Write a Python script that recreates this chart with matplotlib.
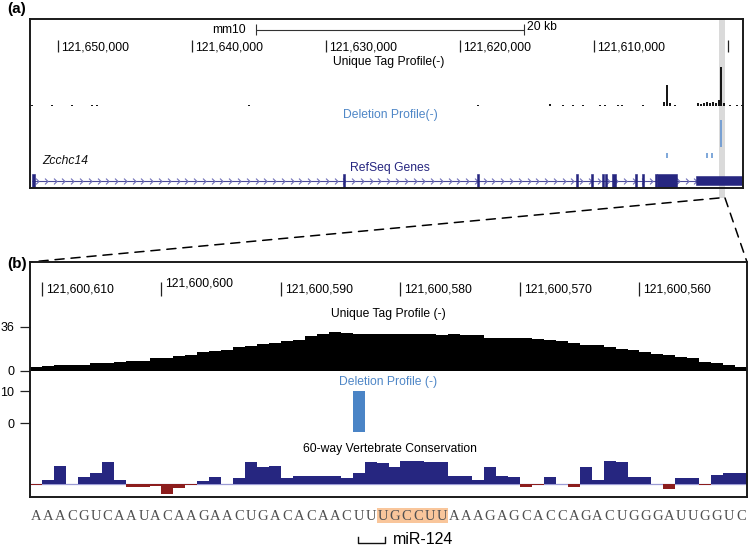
import numpy as np
import matplotlib
matplotlib.use('Agg')
import matplotlib.pyplot as plt
from matplotlib.path import Path
from matplotlib.patches import ConnectionPatch, Rectangle
from matplotlib.transforms import offset_copy, blended_transform_factory

plt.rcParams['font.family'] = ['Liberation Sans', 'DejaVu Sans']

W, H = 750, 546

# ---------------- panel (a) data ----------------
a_view = (121652090, 121598880)          # genomic span, decreasing to the right
a_ruler_ticks = [121650000, 121640000, 121630000, 121620000, 121610000, 121600000]
a_ruler_labels = ['121,650,000', '121,640,000', '121,630,000', '121,620,000', '121,610,000', '']
scalebar_start = 121635250
scalebar_len = 20000
highlight = (121600670, 121600222)

tag_a_pos = [121651940, 121650448, 121648956, 121647463, 121647090, 121635746,
             121618656, 121613282, 121612312, 121611566, 121610820, 121609551,
             121609178, 121608208, 121607909, 121606342, 121604775, 121604551,
             121604327, 121603954, 121602237, 121602013, 121601789, 121601565,
             121601342, 121601118, 121600894, 121600670, 121600521, 121600297,
             121599849, 121599327, 121598953]
tag_a_h = [1.5, 1.5, 1.5, 1.5, 1.5, 1.5,
           1.5, 2.5, 1.5, 1.5, 1.5, 1.5,
           1.5, 1.5, 1.5, 1.5, 4, 21,
           3, 1.5, 3, 2.5, 3, 4,
           3, 4, 3, 6, 39, 3,
           1.5, 1.5, 1.5]

del_a_pos = [121604551, 121601565, 121601192, 121600521]
del_a_lo = [0, 0, 0, 11]
del_a_hi = [5, 5, 5, 38]

gene_name = 'Zcchc14'
exon_hi = [121651960, 121628706, 121618706, 121611317, 121610198, 121609377,
           121609153, 121608655, 121606914, 121606392, 121605422, 121605297,
           121602362]
exon_lo = [121651717, 121628606, 121618606, 121611217, 121610098, 121609277,
           121609053, 121608356, 121606814, 121606292, 121605322, 121603804,
           121598800]
exon_kind = ['cds'] * 12 + ['utr']

# ---------------- panel (b) data ----------------
b_view = (121600611, 121600551)
b_ruler_ticks = [121600610, 121600600, 121600590, 121600580, 121600570, 121600560]
b_ruler_labels = ['121,600,610', '121,600,600', '121,600,590',
                  '121,600,580', '121,600,570', '121,600,560']
sequence = 'AAACGUCAAUACAAGAACUGACACAACUUUGCCUUAAAGAGCACCAGACUGGGAUUGGUC'
seed_first, seed_last = 29, 34
tag_b = [3, 4, 5, 5, 5, 6, 6, 7, 8, 8, 10, 10, 12, 13, 15, 16, 17, 19, 20, 22,
         23, 24, 25, 28, 30, 32, 31, 30, 30, 30, 30, 30, 30, 30, 29, 30, 29, 29, 27, 27,
         27, 27, 26, 25, 24, 23, 21, 21, 19, 18, 17, 15, 14, 13, 11, 10, 7, 6, 5, 3]
del_b_index = [27]
del_b_top = [10]
del_b_bottom = [-2.8]
cons = [-0.4, 4.3, 18.3, 0.3, 7, 11, 22.7, 4, -2.3, -2.3,
        -1.3, -10, -4, -0.5, 3.3, 7, 0.3, 6, 22, 17.7,
        18, 6, 8, 8, 8.3, 8.3, 6.7, 11, 22, 21.7,
        17, 23.3, 23.3, 22.3, 22.3, 8.3, 8.3, 4.3, 17, 8.3,
        7, -2.3, -0.3, 7.7, 0.3, -2.3, 17, 4.3, 23, 22.3,
        7, 7, 0.3, -4.3, 6.3, 6.3, -0.5, 9.7, 11.7, 11.7]
mir_bracket = (121600583.55, 121600581.3)
mir_name = 'miR-124'

# ---------------- styling ----------------
NAVY = '#262680'
RED = '#8c1d1d'
BLUE = '#4a84c6'
LBLUE = '#4f87c7'
FS = 8.7

fig = plt.figure(figsize=(W / 100, H / 100), dpi=100)
fig.patch.set_facecolor('white')


def px_axes(x0, y0, x1, y1, z=1):
    ax = fig.add_axes([x0 / W, 1 - y1 / H, (x1 - x0) / W, (y1 - y0) / H], zorder=z)
    ax.set_facecolor('none')
    return ax


def strip(ax):
    ax.set_xticks([])
    ax.set_yticks([])
    for s in ax.spines.values():
        s.set_visible(False)


# ================= panel (a) =================
hl = px_axes(30, 19, 743, 198, z=0)
hl.set_xlim(a_view)
hl.set_ylim(0, 1)
hl.axvspan(highlight[0], highlight[1], color='#dadada', lw=0)
strip(hl)

boxa = px_axes(30, 19, 743, 188, z=5)
boxa.set_xlim(a_view)
boxa.set_ylim(188, 19)
boxa.set_xticks([])
boxa.set_yticks([])
for s in boxa.spines.values():
    s.set_linewidth(1.4)
    s.set_color('#1a1a1a')

boxa.vlines(a_ruler_ticks, 40, 52, color='#222222', lw=0.9)
tr_a = offset_copy(boxa.transData, fig=fig, x=3, y=0, units='dots')
for t, lab in zip(a_ruler_ticks, a_ruler_labels):
    boxa.text(t, 47.5, lab, transform=tr_a, ha='left', va='center', fontsize=FS)

sb_end = scalebar_start - scalebar_len
boxa.hlines(29.5, sb_end, scalebar_start, color='#333333', lw=0.8)
boxa.vlines([scalebar_start, sb_end], 24, 35, color='#333333', lw=0.8)
boxa.text(scalebar_start, 30, 'mm10', ha='right', va='center', fontsize=FS,
          transform=offset_copy(boxa.transData, fig=fig, x=-10, y=0, units='dots'))
boxa.text(sb_end, 27.5, f'{scalebar_len // 1000} kb', ha='left', va='center', fontsize=FS,
          transform=offset_copy(boxa.transData, fig=fig, x=3, y=0, units='dots'))

bt_a = blended_transform_factory(boxa.transAxes, boxa.transData)
boxa.text(0.503, 62, 'Unique Tag Profile(-)', transform=bt_a, ha='center', va='center', fontsize=FS)
boxa.text(0.506, 115, 'Deletion Profile(-)', transform=bt_a, ha='center', va='center',
          fontsize=FS, color=LBLUE)
boxa.text(0.0168, 160.5, gene_name, transform=bt_a, ha='left', va='center',
          fontsize=FS, style='italic', color='#111111')
boxa.text(0.505, 168, 'RefSeq Genes', transform=bt_a, ha='center', va='center',
          fontsize=FS, color=NAVY)

taga = px_axes(30, 60, 743, 106, z=3)
taga.set_xlim(a_view)
taga.set_ylim(0, 46)
strip(taga)
taga.vlines(tag_a_pos, 0, tag_a_h, color='black', lw=1.3)

dela = px_axes(30, 115, 743, 158, z=3)
dela.set_xlim(a_view)
dela.set_ylim(0, 43)
strip(dela)
dela.vlines(del_a_pos, del_a_lo, del_a_hi, color='#5b8fd0', lw=1.1)

gene = px_axes(30, 170, 743, 191, z=3)
gene.set_xlim(a_view)
gene.set_ylim(-10.5, 10.5)
strip(gene)
g_hi, g_lo = max(exon_hi), min(exon_lo)
gene.hlines(0, g_lo, g_hi, color='#4b4b9b', lw=0.8, zorder=1)
chev = Path([(-0.5, 1.0), (0.5, 0.0), (-0.5, -1.0)], [Path.MOVETO, Path.LINETO, Path.LINETO])
xs = np.arange(g_hi - 400, g_lo, -655)
gene.plot(xs, np.zeros_like(xs), ls='none', marker=chev, ms=4.2, mfc='none',
          mec='#6f6fb8', mew=0.8, zorder=1.5)
half = {'cds': 6.75, 'utr': 4.5}
for hi_, lo_, k in zip(exon_hi, exon_lo, exon_kind):
    h = half[k]
    c = 0.0 if k == 'cds' else -0.3
    gene.add_patch(Rectangle((lo_, c - h), hi_ - lo_, 2 * h, facecolor=NAVY,
                             edgecolor=NAVY, lw=0.4, zorder=3))

# ================= panel (b) =================
boxb = px_axes(30, 262, 747, 497, z=5)
boxb.set_xlim(b_view)
boxb.set_ylim(497, 262)
boxb.set_xticks([])
boxb.set_yticks([])
for s in boxb.spines.values():
    s.set_linewidth(1.4)
    s.set_color('#1a1a1a')

boxb.vlines(b_ruler_ticks, 282, 296, color='#222222', lw=0.9)
tr_b = offset_copy(boxb.transData, fig=fig, x=4, y=0, units='dots')
label_y = [290, 283, 290, 290, 290, 290]
for t, lab, ly in zip(b_ruler_ticks, b_ruler_labels, label_y):
    boxb.text(t, ly, lab, transform=tr_b, ha='left', va='center', fontsize=FS)

bt_b = blended_transform_factory(boxb.transAxes, boxb.transData)
boxb.text(0.5, 314, 'Unique Tag Profile (-)', transform=bt_b, ha='center', va='center', fontsize=FS)
boxb.text(0.5, 382, 'Deletion Profile (-)', transform=bt_b, ha='center', va='center',
          fontsize=FS, color=LBLUE)
boxb.text(0.502, 449, '60-way Vertebrate Conservation', transform=bt_b, ha='center',
          va='center', fontsize=FS)

edges = b_view[1] + np.arange(len(tag_b) + 1)
centers = b_view[0] - 0.5 - np.arange(len(tag_b))


def yaxis_style(ax):
    for s in ax.spines.values():
        s.set_visible(False)
    ax.set_xticks([])
    ax.tick_params(axis='y', direction='out', length=7.2, width=0.9, pad=4.3,
                   labelsize=9, color='#222222')


tagb = px_axes(30, 326.7, 747, 370.7, z=3)
tagb.set_xlim(b_view)
tagb.set_ylim(0, 36)
tagb.stairs(tag_b[::-1], edges, fill=True, color='black', baseline=0)
tagb.set_yticks([0, 36])
yaxis_style(tagb)

delb = px_axes(30, 391, 747, 432, z=3)
delb.set_xlim(b_view)
delb.set_ylim(-2.8, 10)
delb.bar([centers[i] for i in del_b_index],
         [t - b for t, b in zip(del_b_top, del_b_bottom)],
         bottom=del_b_bottom, width=1.0, color=BLUE, lw=0)
delb.set_yticks([0, 10])
yaxis_style(delb)

consax = px_axes(30, 455, 747, 497, z=3)
consax.set_xlim(b_view)
consax.set_ylim(-12.7, 29.3)
strip(consax)
consax.axhline(0, color='#9b9bd4', lw=0.9, zorder=1)
cvals = np.array(cons)
consax.bar(centers, cvals, width=1.0, lw=0, zorder=2,
           color=[NAVY if v >= 0 else RED for v in cvals])

seq = px_axes(30, 500, 747, 546, z=3)
seq.set_xlim(b_view)
seq.set_ylim(546, 500)
strip(seq)
s_left = b_view[0] - seed_first
s_right = b_view[0] - seed_last - 1
seq.add_patch(Rectangle((s_right, 508), s_left - s_right, 15, facecolor='#f9c69b', lw=0))
for i, ch in enumerate(sequence):
    seq.text(centers[i], 516, ch, ha='center', va='center', fontsize=10.5,
             family=['Liberation Serif', 'DejaVu Serif'], color='#505050')
seq.plot([mir_bracket[0], mir_bracket[0], mir_bracket[1], mir_bracket[1]],
         [537, 543, 543, 537], color='#111111', lw=1.0)
seq.text(mir_bracket[1], 539.5, mir_name, ha='left', va='center', fontsize=11.5,
         transform=offset_copy(seq.transData, fig=fig, x=8, y=0, units='dots'))

# ---------------- connectors & panel labels ----------------
for xa, xb in [(highlight[0], 0.0), (highlight[1], 1.0)]:
    con = ConnectionPatch(xyA=(xa, 0), coordsA=hl.transData,
                          xyB=(xb, 1.0), coordsB=boxb.transAxes,
                          color='black', lw=1.1, linestyle=(0, (6, 4.5)))
    fig.add_artist(con)

fig.text(7 / W, 1 - 9.5 / H, '(a)', fontsize=11, fontweight='bold', ha='left', va='center')
fig.text(7 / W, 1 - 264 / H, '(b)', fontsize=11, fontweight='bold', ha='left', va='center')

fig.savefig('out.png', dpi=100, facecolor='white')
